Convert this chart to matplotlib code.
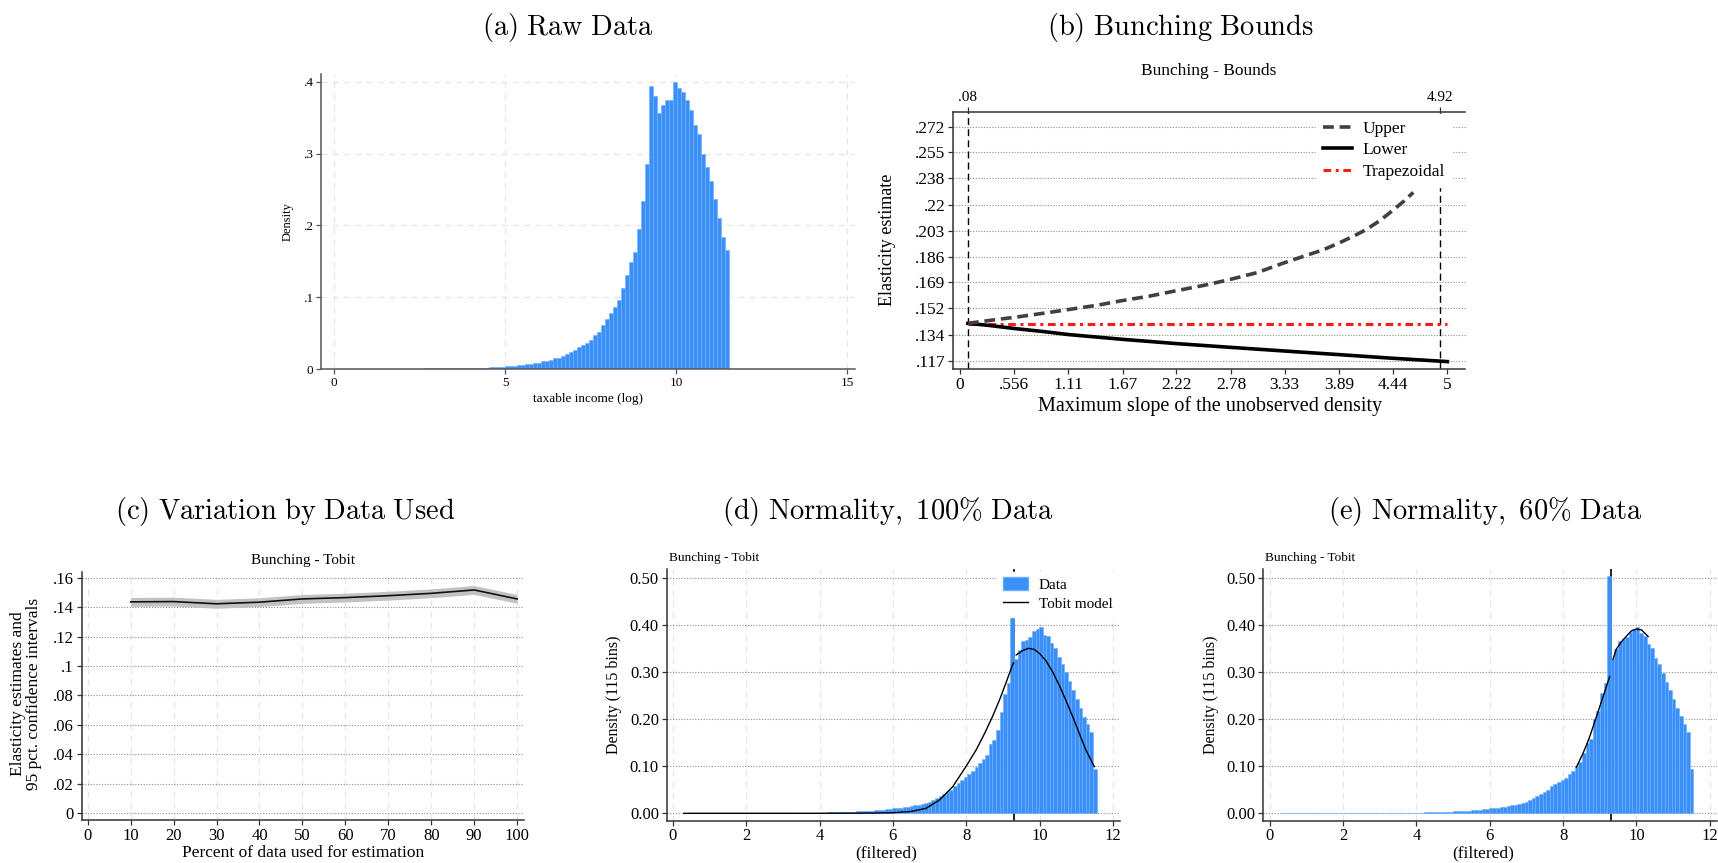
import numpy as np
import matplotlib
matplotlib.use("Agg")
import matplotlib.pyplot as plt
from matplotlib.patches import Patch
from matplotlib.lines import Line2D

plt.rcParams['font.family'] = ['Liberation Serif', 'DejaVu Serif']
plt.rcParams['mathtext.fontset'] = 'cm'

# ---------------- data ----------------
# (a) raw histogram, 96 bins between 0.3 and 11.55
a_range = (0.3, 11.55)
a_dens = [
    0.0004, 0.0004, 0.0004, 0.0004, 0.0004, 0.0004, 0.0004, 0.0004, 0.0004, 0.0004,
    0.0005, 0.0005, 0.0005, 0.0005, 0.0005, 0.0005, 0.0005, 0.0005, 0.0005, 0.0005,
    0.0007, 0.0007, 0.0007, 0.0007, 0.0007, 0.0007, 0.0009, 0.0009, 0.0009, 0.0009,
    0.0011, 0.0011, 0.0014, 0.0014, 0.0019, 0.0019, 0.0023, 0.0023, 0.0028, 0.0033,
    0.0037, 0.0042, 0.0047, 0.0051, 0.0056, 0.0065, 0.0070, 0.0079, 0.0084, 0.0107,
    0.0112, 0.0126, 0.0149, 0.0158, 0.0181, 0.0205, 0.0237, 0.0265, 0.0307, 0.0335,
    0.0367, 0.0405, 0.0470, 0.0516, 0.0614, 0.0702, 0.0777, 0.0860, 0.0963, 0.1125,
    0.1311, 0.1491, 0.1631, 0.1950, 0.2340, 0.2860, 0.3940, 0.3795, 0.3560, 0.3670,
    0.3740, 0.3740, 0.3990, 0.3910, 0.3850, 0.3750, 0.3610, 0.3400, 0.3270, 0.3000,
    0.2810, 0.2620, 0.2370, 0.2100, 0.1840, 0.1650,
]

# (b) bunching bounds
upper_x = [0.08, 0.3, 0.606, 0.9, 1.13, 1.4, 1.66, 1.95, 2.22, 2.5, 2.75,
           3.05, 3.31, 3.55, 3.72, 3.88, 4.05, 4.16, 4.3, 4.41, 4.55, 4.65]
upper_y = [0.1419, 0.1438, 0.1463, 0.1490, 0.1512, 0.1538, 0.1569, 0.1600,
           0.1635, 0.1670, 0.1706, 0.1755, 0.1816, 0.1868, 0.1904, 0.1948,
           0.2000, 0.2037, 0.2095, 0.2151, 0.2225, 0.2285]
lower_x = [0.08, 0.3, 0.556, 0.85, 1.11, 1.67, 2.22, 2.78, 3.33, 3.89, 4.44, 5.0]
lower_y = [0.1419, 0.1405, 0.1385, 0.1365, 0.1345, 0.1313, 0.1285, 0.1260,
           0.1236, 0.1212, 0.1188, 0.1166]
trap_x = [0.08, 5.0]
trap_y = [0.1416, 0.1416]
b_xticks = [0, 0.556, 1.11, 1.67, 2.22, 2.78, 3.33, 3.89, 4.44, 5]
b_xlabels = ['0', '.556', '1.11', '1.67', '2.22', '2.78', '3.33', '3.89', '4.44', '5']
b_yticks = [0.117, 0.134, 0.152, 0.169, 0.186, 0.203, 0.22, 0.238, 0.255, 0.272]
b_ylabels = ['.117', '.134', '.152', '.169', '.186', '.203', '.22', '.238', '.255', '.272']
slope_bounds = [0.08, 4.92]

# (c) variation by data used
pct = [10, 20, 30, 40, 50, 60, 70, 80, 90, 100]
est = [0.1436, 0.1438, 0.1423, 0.1434, 0.1456, 0.1465, 0.1478, 0.1494, 0.1517, 0.1456]
ci_lo = [0.1406, 0.1408, 0.1393, 0.1404, 0.1426, 0.1435, 0.1448, 0.1464, 0.1487, 0.1426]
ci_hi = [0.1466, 0.1468, 0.1453, 0.1464, 0.1486, 0.1495, 0.1508, 0.1524, 0.1547, 0.1486]

# (d) / (e) normality histograms, 115 bins between 0.3 and 11.55
n_range = (0.3, 11.55)
kink = 9.3
d_dens = [
    0.0003, 0.0003, 0.0003, 0.0003, 0.0003, 0.0003, 0.0003, 0.0003, 0.0003, 0.0003,
    0.0003, 0.0003, 0.0003, 0.0003, 0.0003, 0.0003, 0.0003, 0.0003, 0.0003, 0.0003,
    0.0005, 0.0005, 0.0005, 0.0005, 0.0005, 0.0005, 0.0005, 0.0005, 0.0005, 0.0005,
    0.0006, 0.0007, 0.0008, 0.0009, 0.0010, 0.0012, 0.0013, 0.0014, 0.0016, 0.0017,
    0.0019, 0.0021, 0.0023, 0.0025, 0.0027, 0.0030, 0.0033, 0.0036, 0.0040, 0.0044,
    0.0048, 0.0053, 0.0058, 0.0064, 0.0070, 0.0078, 0.0087, 0.0097, 0.0106, 0.0114,
    0.0122, 0.0131, 0.0141, 0.0156, 0.0168, 0.0182, 0.0198, 0.0215, 0.0245, 0.0280,
    0.0320, 0.0360, 0.0405, 0.0450, 0.0505, 0.0575, 0.0650, 0.0710, 0.0766, 0.0840,
    0.0906, 0.0990, 0.1060, 0.1150, 0.1250, 0.1470, 0.1560, 0.1772, 0.2160, 0.2535,
    0.2780, 0.4170, 0.3280, 0.3475, 0.3672, 0.3686, 0.3740, 0.3880, 0.3910, 0.3964,
    0.3800, 0.3770, 0.3616, 0.3510, 0.3320, 0.3176, 0.3000, 0.2820, 0.2620, 0.2430,
    0.2240, 0.2050, 0.1900, 0.1720, 0.0940,
]
e_dens = [
    0.0005, 0.0005, 0.0005, 0.0005, 0.0005, 0.0005, 0.0005, 0.0005, 0.0005, 0.0005,
    0.0005, 0.0005, 0.0005, 0.0005, 0.0005, 0.0005, 0.0005, 0.0005, 0.0005, 0.0005,
    0.0008, 0.0008, 0.0008, 0.0008, 0.0008, 0.0008, 0.0008, 0.0008, 0.0008, 0.0008,
    0.0008, 0.0008, 0.0008, 0.0008, 0.0008, 0.0012, 0.0013, 0.0014, 0.0016, 0.0017,
    0.0019, 0.0021, 0.0023, 0.0025, 0.0027, 0.0030, 0.0033, 0.0036, 0.0040, 0.0044,
    0.0048, 0.0053, 0.0058, 0.0064, 0.0070, 0.0078, 0.0087, 0.0097, 0.0106, 0.0114,
    0.0122, 0.0131, 0.0141, 0.0156, 0.0168, 0.0182, 0.0198, 0.0215, 0.0245, 0.0280,
    0.0320, 0.0360, 0.0405, 0.0450, 0.0505, 0.0575, 0.0620, 0.0660, 0.0700, 0.0760,
    0.0830, 0.0900, 0.0993, 0.1100, 0.1290, 0.1490, 0.1574, 0.2000, 0.2177, 0.2567,
    0.2780, 0.5057, 0.3277, 0.3490, 0.3670, 0.3700, 0.3745, 0.3865, 0.3915, 0.3970,
    0.3844, 0.3773, 0.3603, 0.3510, 0.3298, 0.3177, 0.2980, 0.2800, 0.2620, 0.2430,
    0.2250, 0.2070, 0.1900, 0.1720, 0.0940,
]
d_fit_lx = [0.3, 2.0, 4.0, 5.0, 5.5, 6.0, 6.5, 6.9, 7.27, 7.63, 8.0, 8.27,
            8.5, 8.71, 8.9, 9.08, 9.26, 9.29]
d_fit_ly = [0.0, 0.0, 0.0001, 0.0003, 0.0006, 0.0013, 0.0040, 0.0106, 0.0283,
            0.0567, 0.1006, 0.1350, 0.1700, 0.2050, 0.2400, 0.2770, 0.3156, 0.320]
d_fit_rx = [9.36, 9.53, 9.69, 9.85, 9.99, 10.17, 10.35, 10.53, 10.71, 10.9,
            11.08, 11.26, 11.49]
d_fit_ry = [0.3368, 0.3458, 0.3509, 0.3487, 0.3404, 0.3248, 0.3014, 0.273,
            0.2411, 0.2057, 0.1702, 0.1348, 0.0993]
e_fit_lx = [8.36, 8.545, 8.727, 8.909, 9.09, 9.27]
e_fit_ly = [0.0979, 0.1277, 0.163, 0.2057, 0.248, 0.291]
e_fit_rx = [9.36, 9.45, 9.59, 9.73, 9.86, 10.0, 10.14, 10.23, 10.32]
e_fit_ry = [0.3277, 0.349, 0.365, 0.377, 0.388, 0.392, 0.390, 0.383, 0.376]

# ---------------- figure ----------------
W, H = 1718, 863
fig = plt.figure(figsize=(W / 100, H / 100), dpi=100)

BLUE = '#3b8ff9'
BAR_EDGE = '#6aaeff'
DOT_GRID = '#8c8c8c'
LIGHT_GRID = '#e6e6e6'
SPINE = '#333333'


def box(l, t, r, b):
    return [l / W, 1 - b / H, (r - l) / W, (b - t) / H]


def ftext(x, y, s, **kw):
    return fig.text(x / W, 1 - y / H, s, **kw)


def style(ax, size, spine_col=SPINE, top=False):
    for side in ['right', 'top']:
        ax.spines[side].set_visible(False)
    if top:
        ax.spines['top'].set_visible(True)
    for side in ['left', 'bottom', 'top']:
        ax.spines[side].set_color(spine_col)
        ax.spines[side].set_linewidth(1.1)
    ax.tick_params(direction='out', length=3.5, width=0.9, colors=spine_col,
                   labelcolor='black', labelsize=size, pad=2)
    ax.set_axisbelow(True)


def hist(ax, rng, dens):
    edges = np.linspace(rng[0], rng[1], len(dens) + 1)
    ax.bar(edges[:-1], dens, width=edges[1] - edges[0], align='edge',
           color=BLUE, edgecolor=BAR_EDGE, linewidth=0.4, zorder=2)


# captions
cap = dict(fontsize=20.5, ha='center', va='center')
ftext(568, 28, r'$\mathrm{(a)\ Raw\ Data}$', **cap)
ftext(1180, 28, r'$\mathrm{(b)\ Bunching\ Bounds}$', **cap)
ftext(285, 512, r'$\mathrm{(c)\ Variation\ by\ Data\ Used}$', **cap)
ftext(888, 512, r'$\mathrm{(d)\ Normality,\ 100\%\ Data}$', **cap)
ftext(1485, 512, r'$\mathrm{(e)\ Normality,\ 60\%\ Data}$', **cap)

# ---- (a) ----
axA = fig.add_axes(box(320.5, 74.5, 855, 369))
hist(axA, a_range, a_dens)
axA.set_xlim(-0.395, 15.23)
axA.set_ylim(0, 0.41)
axA.set_xticks([0, 5, 10, 15])
axA.set_yticks([0, 0.1, 0.2, 0.3, 0.4])
axA.set_yticklabels(['0', '.1', '.2', '.3', '.4'])
axA.grid(True, color=LIGHT_GRID, linestyle=(0, (5, 4)), linewidth=0.9)
style(axA, 9.5, spine_col='#555555')
ftext(288, 222, 'Density', rotation=90, ha='center', va='center', fontsize=9)
ftext(588, 399, 'taxable income (log)', ha='center', va='center', fontsize=9.5)

# ---- (b) ----
axB = fig.add_axes(box(953, 112, 1465.5, 369))
axB.set_xlim(-0.073, 5.186)
axB.set_ylim(0.1117, 0.2817)
axB.yaxis.grid(True, color=DOT_GRID, linestyle=(0, (1, 1.5)), linewidth=0.8)
for v in slope_bounds:
    axB.axvline(v, color='black', linewidth=1.0, linestyle=(0, (5, 3)), zorder=1)
axB.plot(trap_x, trap_y, color='#ff1a1a', linewidth=2.2,
         linestyle=(0, (2.5, 1.5, 1, 1.5)), label='Trapezoidal', zorder=3)
axB.plot(lower_x, lower_y, color='black', linewidth=2.6, label='Lower', zorder=3)
axB.plot(upper_x, upper_y, color='#404040', linewidth=2.6,
         linestyle=(0, (3, 1.6)), label='Upper', zorder=3)
axB.set_xticks(b_xticks)
axB.set_xticklabels(b_xlabels)
axB.set_yticks(b_yticks)
axB.set_yticklabels(b_ylabels)
style(axB, 12.5, top=True)
topB = axB.twiny()
topB.set_xlim(axB.get_xlim())
topB.set_xticks(slope_bounds)
topB.set_xticklabels(['.08', '4.92'])
for side in ['left', 'right', 'bottom', 'top']:
    topB.spines[side].set_visible(False)
topB.tick_params(direction='out', length=3.5, width=0.9, colors=SPINE,
                 labelcolor='black', labelsize=11, pad=2)
hnd = [Line2D([], [], color='#404040', lw=2.6, ls=(0, (3, 1.6))),
       Line2D([], [], color='black', lw=2.6),
       Line2D([], [], color='#ff1a1a', lw=2.2, ls=(0, (2.5, 1.5, 1, 1.5)))]
legB = axB.legend(hnd, ['Upper', 'Lower', 'Trapezoidal'], loc='upper right',
                  bbox_to_anchor=(1452 / W, 1 - 114 / H),
                  bbox_transform=fig.transFigure, fontsize=12.5,
                  frameon=True, facecolor='white', edgecolor='white',
                  framealpha=1, fancybox=False, handlelength=1.7,
                  handletextpad=0.6, labelspacing=0.3, borderpad=0.4,
                  borderaxespad=0)
legB.set_zorder(5)
ftext(1209, 71, 'Bunching - Bounds', ha='center', va='center', fontsize=12.5)
ftext(888, 240, 'Elasticity estimate', rotation=90, ha='center', va='center',
      fontsize=13)
ftext(1210, 406, 'Maximum slope of the unobserved density', ha='center',
      va='center', fontsize=14.5)

# ---- (c) ----
axC = fig.add_axes(box(81.5, 571.7, 524, 820))
axC.fill_between(pct, ci_lo, ci_hi, color='#c2c2c2', linewidth=0, zorder=2)
axC.plot(pct, est, color='#111111', linewidth=1.2, zorder=3)
axC.set_xlim(-1.45, 101.6)
axC.set_ylim(-0.0046, 0.1641)
axC.set_xticks(range(0, 101, 10))
c_yt = [0, 0.02, 0.04, 0.06, 0.08, 0.1, 0.12, 0.14, 0.16]
axC.set_yticks(c_yt)
axC.set_yticklabels(['0', '.02', '.04', '.06', '.08', '.1', '.12', '.14', '.16'])
axC.yaxis.grid(True, color=DOT_GRID, linestyle=(0, (1, 1.5)), linewidth=0.8)
axC.xaxis.grid(True, color=LIGHT_GRID, linestyle=(0, (5, 4)), linewidth=0.9)
style(axC, 12)
ftext(303, 560, 'Bunching - Tobit', ha='center', va='center', fontsize=11)
ftext(26, 694, 'Elasticity estimates and\n95 pct. confidence intervals',
      rotation=90, ha='center', va='center', fontsize=12.5, linespacing=1.0)
ftext(303, 853, 'Percent of data used for estimation', ha='center',
      va='center', fontsize=12.5)


# ---- (d) / (e) ----
def normality(left, dens, lx, ly, rx, ry, legend):
    ax = fig.add_axes(box(left, 569.3, left + 453.4, 820.7))
    ax.axvline(kink, color='black', linewidth=1.2, zorder=1)
    hist(ax, n_range, dens)
    ax.plot(lx, ly, color='black', linewidth=1.0, zorder=3)
    ax.plot(rx, ry, color='black', linewidth=1.0, zorder=3)
    ax.set_xlim(-0.169, 12.19)
    ax.set_ylim(-0.0157, 0.519)
    ax.set_xticks(range(0, 13, 2))
    yt = [0, 0.1, 0.2, 0.3, 0.4, 0.5]
    ax.set_yticks(yt)
    ax.set_yticklabels(['%.2f' % v for v in yt])
    ax.yaxis.grid(True, color=DOT_GRID, linestyle=(0, (1, 1.5)), linewidth=0.8)
    ax.xaxis.grid(True, color=LIGHT_GRID, linestyle=(0, (5, 4)), linewidth=0.9)
    style(ax, 12)
    if legend:
        hnd = [Patch(facecolor=BLUE, edgecolor=BAR_EDGE),
               Line2D([], [], color='black', lw=1.0)]
        lg = ax.legend(hnd, ['Data', 'Tobit model'], loc='upper right',
                       bbox_to_anchor=((left + 451) / W, 1 - 572 / H),
                       bbox_transform=fig.transFigure, fontsize=11,
                       frameon=True, facecolor='white', edgecolor='white',
                       framealpha=1, fancybox=False, handlelength=1.65,
                       handleheight=0.9, handletextpad=0.7, labelspacing=0.3,
                       borderpad=0.35, borderaxespad=0)
        lg.set_zorder(5)
    ftext(left + 2, 558, 'Bunching - Tobit', ha='left', va='center', fontsize=9.5)
    ftext(left - 52.5, 695, 'Density (115 bins)', rotation=90, ha='center',
          va='center', fontsize=11.5)
    ftext(left + 220, 853, '(filtered)', ha='center', va='center', fontsize=12.5)
    return ax


normality(666.6, d_dens, d_fit_lx, d_fit_ly, d_fit_rx, d_fit_ry, True)
normality(1263.4, e_dens, e_fit_lx, e_fit_ly, e_fit_rx, e_fit_ry, False)

fig.savefig('out.png', dpi=100)
